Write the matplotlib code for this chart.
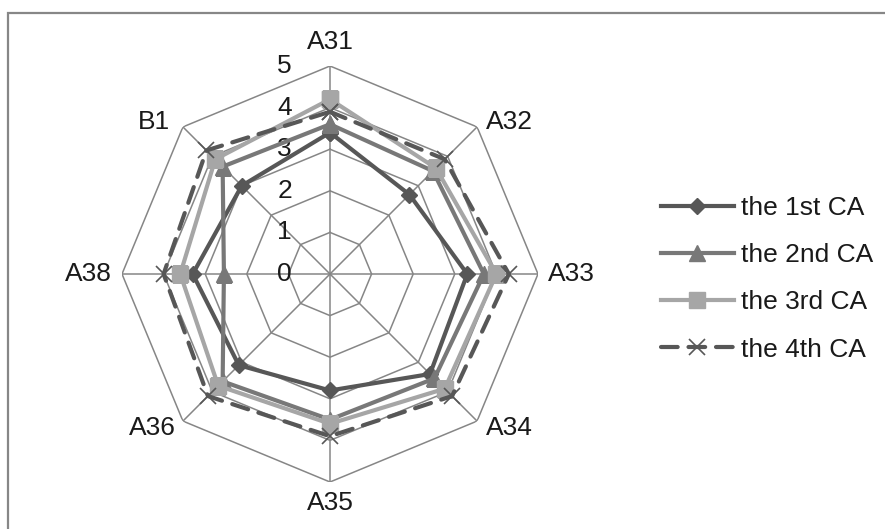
import numpy as np
import matplotlib
matplotlib.use("Agg")
import matplotlib.pyplot as plt
from matplotlib.patches import Rectangle

plt.rcParams['font.family'] = ['Liberation Sans', 'DejaVu Sans']

# scores per item for each CA round
cats = ['A31', 'A32', 'A33', 'A34', 'A35', 'A36', 'A38', 'B1']
ca1 = [3.4, 2.7, 3.3, 3.4, 2.8, 3.1, 3.3, 3.0]
ca2 = [3.6, 3.5, 3.7, 3.55, 3.5, 3.65, 2.55, 3.65]
ca3 = [4.2, 3.6, 4.0, 3.9, 3.6, 3.8, 3.6, 3.9]
ca4 = [3.9, 3.9, 4.3, 4.15, 3.9, 4.15, 4.0, 4.2]
names = ['the 1st CA', 'the 2nd CA', 'the 3rd CA', 'the 4th CA']
rings = [0, 1, 2, 3, 4, 5]

W, H = 885, 529
fig = plt.figure(figsize=(W / 100, H / 100), dpi=100)

# outer frame
fig.add_artist(Rectangle((8 / W, -0.2), 1.2, 1.2 - 13 / H, transform=fig.transFigure,
                         fill=False, edgecolor='#878787', linewidth=1.6))

cx, cy, R = 330, 274, 208
ax = fig.add_axes([(cx - R) / W, (H - cy - R) / H, 2 * R / W, 2 * R / H], projection='polar')
ax.set_theta_zero_location('N')
ax.set_theta_direction(-1)
ax.set_ylim(0, 5)
ax.axis('off')

ang = np.arange(len(cats)) * 2 * np.pi / len(cats)
closed = np.append(ang, ang[0])

gc = '#868686'
for r in rings[1:]:
    ax.plot(closed, [r] * len(closed), color=gc, lw=1.1, zorder=1)
for a in ang:
    ax.plot([a, a], [0, 5], color=gc, lw=1.1, zorder=1)

txt = '#1a1a1a'
fs = 19
for r in rings:
    ax.annotate(str(r), xy=(0, r), xytext=(-38, 0), textcoords='offset pixels',
                ha='right', va='center', fontsize=fs, color=txt)

offs = [(0, 24, 'center'), (9, 5, 'left'), (10, 0, 'left'), (9, -7, 'left'),
        (0, -21, 'center'), (-7, -7, 'right'), (-10, 0, 'right'), (-13, 5, 'right')]
for a, c, (dx, dy, ha) in zip(ang, cats, offs):
    ax.annotate(c, xy=(a, 5), xytext=(dx, dy), textcoords='offset pixels',
                ha=ha, va='center', fontsize=fs, color=txt)

def close(v):
    return v + v[:1]

ax.plot(closed, close(ca1), color='#575757', lw=3, marker='D', ms=8,
        label=names[0], zorder=3)
ax.plot(closed, close(ca2), color='#787878', lw=3, marker='^', ms=11,
        label=names[1], zorder=4)
ax.plot(closed, close(ca3), color='#a6a6a6', lw=3, marker='s', ms=11.5,
        label=names[2], zorder=5)
ax.plot(closed, close(ca4), color='#575757', lw=3, marker='x', ms=12, mew=1.2,
        dashes=(4, 2.6), dash_capstyle='round', label=names[3], zorder=6)

fig.legend(loc='upper left', bbox_to_anchor=(661 / W, 1 - 196 / H), frameon=False,
           fontsize=fs, handlelength=2.75, handletextpad=0.3, labelspacing=0.88,
           borderaxespad=0, borderpad=0, labelcolor=txt)

fig.savefig('out.png', dpi=100)
